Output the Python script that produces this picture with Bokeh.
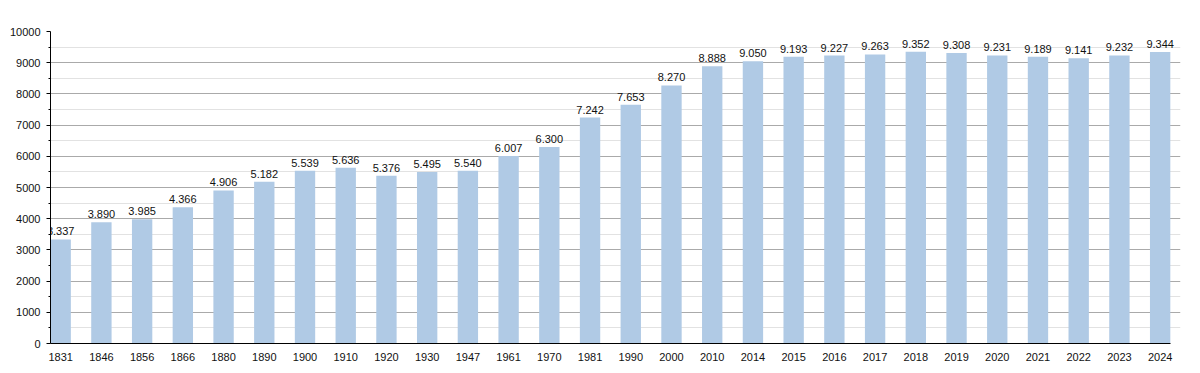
from bokeh.plotting import figure
from bokeh.models import Range1d, FixedTicker, ColumnDataSource
from bokeh.core.properties import value
from bokeh.embed import file_html
from bokeh.resources import INLINE

years = ["1831", "1846", "1856", "1866", "1880", "1890", "1900", "1910", "1920", "1930",
         "1947", "1961", "1970", "1981", "1990", "2000", "2010", "2014", "2015", "2016",
         "2017", "2018", "2019", "2020", "2021", "2022", "2023", "2024"]
population = [3337, 3890, 3985, 4366, 4906, 5182, 5539, 5636, 5376, 5495,
              5540, 6007, 6300, 7242, 7653, 8270, 8888, 9050, 9193, 9227,
              9263, 9352, 9308, 9231, 9189, 9141, 9232, 9344]
y_ticks = list(range(0, 10001, 1000))

n = len(years)
xs = [i + 0.25 for i in range(n)]
labels = [f"{v:,}".replace(",", ".") for v in population]
src = ColumnDataSource(dict(x=xs, y=population, label=labels))

FONT = "Liberation Sans"

p = figure(width=1200, height=373, output_backend="svg", toolbar_location=None,
           x_range=Range1d(0, n - 0.25), y_range=Range1d(0, 10000),
           min_border_left=50, min_border_right=20, min_border_top=31, min_border_bottom=30)
p.outline_line_color = None
p.background_fill_color = "white"
p.border_fill_color = "white"

p.vbar(x="x", top="y", width=0.5, bottom=0, source=src,
       fill_color="#b0cae5", line_color=None)
p.text(x="x", y="y", text="label", source=src, text_align="center",
       text_baseline="bottom", y_offset=-4, text_font=value(FONT),
       text_font_size="11px", text_color="#111111")

p.xgrid.visible = False
p.ygrid.grid_line_color = "#aaaaaa"
p.ygrid.minor_grid_line_color = "#e2e2e2"
p.ygrid.bounds = (0, n - 0.5)

p.yaxis.ticker = FixedTicker(ticks=y_ticks, minor_ticks=[v + 500 for v in y_ticks[:-1]])
p.yaxis.major_tick_out = 4
p.yaxis.major_tick_in = 0
p.yaxis.minor_tick_out = 2
p.yaxis.minor_tick_in = 0
p.yaxis.axis_line_color = "black"
p.yaxis.major_tick_line_color = "black"
p.yaxis.minor_tick_line_color = "black"
p.yaxis.major_label_text_font = FONT
p.yaxis.major_label_text_font_size = "11px"
p.yaxis.major_label_text_color = "#111111"
p.yaxis.major_label_standoff = 6

p.xaxis.ticker = FixedTicker(ticks=xs)
p.xaxis.major_label_overrides = {x: y for x, y in zip(xs, years)}
p.xaxis.bounds = (0, n - 0.5)
p.xaxis.major_tick_line_color = None
p.xaxis.minor_tick_line_color = None
p.xaxis.axis_line_color = "black"
p.xaxis.major_label_text_font = FONT
p.xaxis.major_label_text_font_size = "11px"
p.xaxis.major_label_text_color = "#111111"
p.xaxis.major_label_standoff = 3

open("out.html", "w").write(file_html(p, INLINE))
